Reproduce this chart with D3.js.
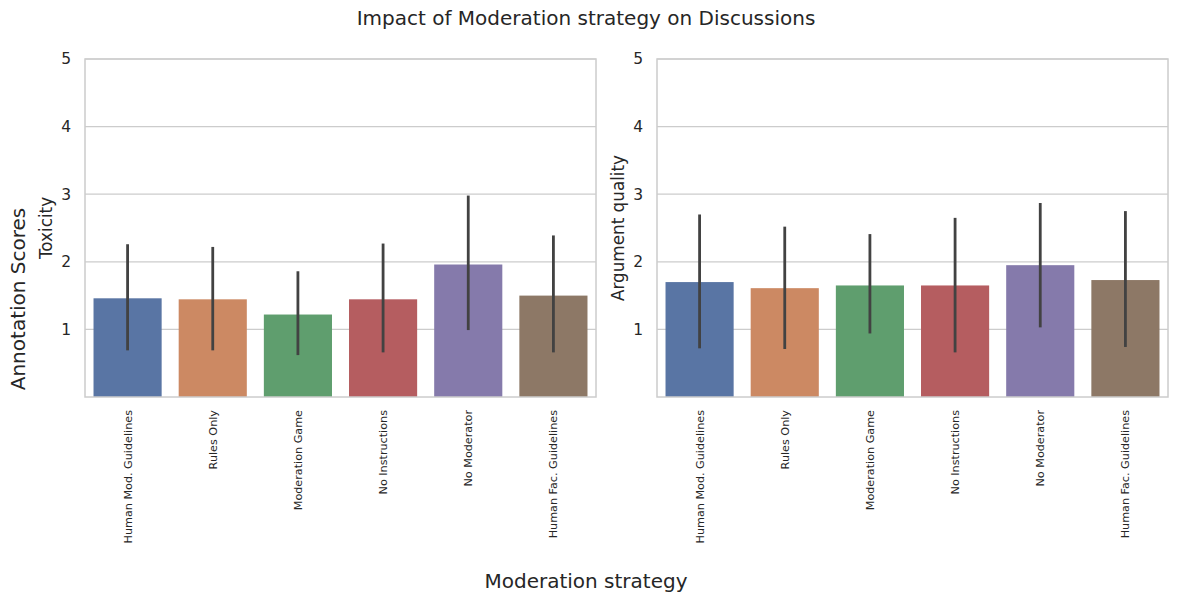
<!DOCTYPE html>
<html>
<head>
<meta charset="utf-8">
<script src="https://cdn.jsdelivr.net/npm/d3@7"></script>
<style>
body { margin: 0; background: #fff; }
text { font-family: "DejaVu Sans", sans-serif; fill: #262626; }
</style>
</head>
<body>
<div id="chart"></div>
<script>
var strategies = ["Human Mod. Guidelines", "Rules Only", "Moderation Game", "No Instructions", "No Moderator", "Human Fac. Guidelines"];
var colors = ["#5975a4", "#cc8963", "#5f9e6e", "#b55d60", "#857aab", "#8d7866"];
var yTicks = [1, 2, 3, 4, 5];

var toxMean = [1.46, 1.445, 1.22, 1.445, 1.96, 1.50];
var toxLow  = [0.69, 0.69, 0.62, 0.66, 0.99, 0.66];
var toxHigh = [2.26, 2.22, 1.86, 2.27, 2.98, 2.39];

var argMean = [1.70, 1.61, 1.65, 1.65, 1.95, 1.73];
var argLow  = [0.72, 0.71, 0.94, 0.66, 1.03, 0.74];
var argHigh = [2.70, 2.52, 2.41, 2.65, 2.87, 2.75];

var W = 1177, H = 602;
var svg = d3.select("#chart").append("svg")
	.attr("width", W)
	.attr("height", H)

svg.append("text")
	.attr("x", 586).attr("y", 25)
	.attr("text-anchor", "middle")
	.style("font-size", "20px")
	.text("Impact of Moderation strategy on Discussions")

svg.append("text")
	.attr("x", 586).attr("y", 588)
	.attr("text-anchor", "middle")
	.style("font-size", "20px")
	.text("Moderation strategy")

svg.append("text")
	.attr("transform", "translate(25,299) rotate(-90)")
	.attr("text-anchor", "middle")
	.style("font-size", "20px")
	.text("Annotation Scores")

function panel(left, label, mean, low, high) {
	var top = 59, bottom = 397, width = 511;
	var g = svg.append("g")
	var x = d3.scaleBand().domain(strategies).range([left, left + width]).paddingInner(0.2).paddingOuter(0.1)
	var y = d3.scaleLinear().domain([0, 5]).range([bottom, top])

	// grid
	g.selectAll(".grid").data(yTicks).enter().append("line")
		.attr("x1", left).attr("x2", left + width)
		.attr("y1", function(d){ return y(d) }).attr("y2", function(d){ return y(d) })
		.attr("stroke", "#cccccc").attr("stroke-width", 1.2)

	g.selectAll(".bar").data(strategies).enter().append("rect")
		.attr("x", function(d){ return x(d) })
		.attr("width", x.bandwidth())
		.attr("y", function(d, i){ return y(mean[i]) })
		.attr("height", function(d, i){ return y(0) - y(mean[i]) })
		.attr("fill", function(d, i){ return colors[i] })

	g.selectAll(".err").data(strategies).enter().append("line")
		.attr("x1", function(d){ return x(d) + x.bandwidth() / 2 })
		.attr("x2", function(d){ return x(d) + x.bandwidth() / 2 })
		.attr("y1", function(d, i){ return y(low[i]) })
		.attr("y2", function(d, i){ return y(high[i]) })
		.attr("stroke", "#424242").attr("stroke-width", 2.8)

	// frame
	g.append("rect")
		.attr("x", left).attr("y", top).attr("width", width).attr("height", bottom - top)
		.attr("fill", "none").attr("stroke", "#cccccc").attr("stroke-width", 1.5)

	var ya = g.append("g").attr("transform", "translate(" + left + ",0)")
		.call(d3.axisLeft(y).tickValues(yTicks).tickFormat(d3.format("d")).tickSize(0).tickPadding(14))
	ya.select(".domain").remove()
	ya.selectAll("text").style("font-size", "15.5px").style("font-family", "DejaVu Sans").attr("fill", "#262626")

	var xa = g.append("g").attr("transform", "translate(0," + bottom + ")")
		.call(d3.axisBottom(x).tickSize(0))
	xa.select(".domain").remove()
	xa.selectAll("text")
		.style("font-size", "11.2px").style("font-family", "DejaVu Sans").attr("fill", "#262626")
		.attr("transform", "rotate(-90)")
		.attr("x", -13).attr("y", 0).attr("dy", "0.35em")
		.attr("text-anchor", "end")

	svg.append("text")
		.attr("transform", "translate(" + (left - 33) + "," + ((top + bottom) / 2) + ") rotate(-90)")
		.attr("text-anchor", "middle")
		.style("font-size", "16.8px")
		.text(label)
}

panel(85, "Toxicity", toxMean, toxLow, toxHigh)
panel(657, "Argument quality", argMean, argLow, argHigh)
</script>
</body>
</html>
